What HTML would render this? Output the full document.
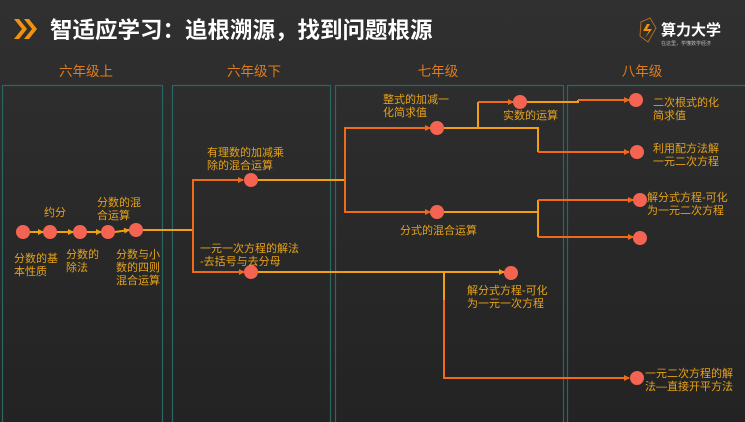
<!DOCTYPE html>
<html><head><meta charset="utf-8"><style>
html,body{margin:0;padding:0;width:745px;height:422px;overflow:hidden;background:#2d2d2d;}
svg{display:block}
text{font-family:"Liberation Sans","Noto Sans CJK SC",sans-serif;}
</style></head><body>
<svg width="745" height="422" viewBox="0 0 745 422" xmlns="http://www.w3.org/2000/svg">
<defs>
<linearGradient id="bg" x1="0" y1="0" x2="0" y2="1"><stop offset="0" stop-color="#303030"/><stop offset="1" stop-color="#232323"/></linearGradient>
<marker id="a" markerWidth="6" markerHeight="6" refX="5" refY="3" orient="auto" markerUnits="userSpaceOnUse"><path d="M0,0 L6,3 L0,6z" fill="#f06a1a"/></marker>
<marker id="ay" markerWidth="6" markerHeight="6" refX="5" refY="3" orient="auto" markerUnits="userSpaceOnUse"><path d="M0,0 L6,3 L0,6z" fill="#f0a010"/></marker>
</defs>
<rect width="745" height="422" fill="url(#bg)"/>
<!-- header -->
<path d="M14,19 L22,29 L14,39 L19,39 L27,29 L19,19z" fill="#f0920e"/>
<path d="M24,19 L32,29 L24,39 L29,39 L37,29 L29,19z" fill="#f0920e"/>
<text x="50" y="38" font-size="22.5" font-weight="bold" fill="#ffffff">智适应学习：追根溯源，找到问题根源</text>
<path d="M641,22 L650,18 L656,28 L648,42 L640,36z" fill="none" stroke="#b06a20" stroke-width="1"/>
<path d="M647,24 L643,31 L649,31 L645,38 L652,29 L647,29 L650,24z" fill="#f0920e"/>
<text x="661" y="35" font-size="15" font-weight="bold" fill="#fff">算力大学</text>
<text x="661" y="45" font-size="5" fill="#bbb">在这里，学懂数学经济</text>
<!-- headers -->
<g font-size="13.5" fill="#e07c1c" text-anchor="middle">
<text x="86" y="76">六年级上</text><text x="254" y="76">六年级下</text><text x="438" y="76">七年级</text><text x="642" y="76">八年级</text>
</g>
<!-- panels -->
<g fill="none" stroke="#2a6663" stroke-width="1.2">
<path d="M2.5,430 V85.5 H162.5 V430"/>
<path d="M172.5,430 V85.5 H330.5 V430"/>
<path d="M335.5,430 V85.5 H563.5 V430"/>
<path d="M567.5,430 V85.5 H760"/>
</g>
<!-- connectors -->
<g fill="none" stroke-width="2">
<g stroke="#f0a010">
<path d="M30,232 H43" marker-end="url(#ay)"/>
<path d="M57,232 H73" marker-end="url(#ay)"/>
<path d="M87,232 H101" marker-end="url(#ay)"/>
<path d="M115,232 L129,230" marker-end="url(#ay)"/>
<path d="M143,230 H193"/>
<path d="M258,180 H345"/>
<path d="M444,128 H538 V152"/>
<path d="M478,128 V102"/>
<path d="M527,102 H578 V100"/>
<path d="M444,212 H538"/>
<path d="M538,200 V237"/>
<path d="M258,272 H444"/>
<path d="M444,272 V300"/>
</g>
<path d="M444,272 H504" stroke="#f0a010" marker-end="url(#ay)"/>
<g stroke="#f06a1a">
<path d="M193,272 V180 H243" marker-end="url(#a)"/>
<path d="M193,230 V272 H244" marker-end="url(#a)"/>
<path d="M345,180 V128 H430" marker-end="url(#a)"/>
<path d="M345,180 V212 H430" marker-end="url(#a)"/>
<path d="M478,102 H513" marker-end="url(#a)"/>
<path d="M578,100 H629" marker-end="url(#a)"/>
<path d="M538,152 H629" marker-end="url(#a)"/>
<path d="M538,200 H633" marker-end="url(#a)"/>
<path d="M538,237 H633" marker-end="url(#a)"/>
<path d="M444,300 V378 H629" marker-end="url(#a)"/>
</g>
</g>
<!-- nodes -->
<g fill="#f56452">
<circle cx="23" cy="232" r="7"/><circle cx="50" cy="232" r="7"/><circle cx="80" cy="232" r="7"/><circle cx="108" cy="232" r="7"/><circle cx="136" cy="230" r="7"/>
<circle cx="251" cy="180" r="7"/><circle cx="251" cy="272" r="7"/>
<circle cx="437" cy="128" r="7"/><circle cx="437" cy="212" r="7"/>
<circle cx="520" cy="102" r="7"/><circle cx="511" cy="273" r="7"/>
<circle cx="636" cy="100" r="7"/><circle cx="637" cy="152" r="7"/><circle cx="640" cy="200" r="7"/><circle cx="640" cy="238" r="7"/><circle cx="637" cy="378" r="7"/>
</g>
<!-- labels -->
<g font-size="11" fill="#e6a21a">
<text x="44" y="216">约分</text>
<text x="97" y="206">分数的混</text><text x="97" y="219">合运算</text>
<text x="14" y="262">分数的基</text><text x="14" y="275">本性质</text>
<text x="66" y="258">分数的</text><text x="66" y="271">除法</text>
<text x="116" y="258">分数与小</text><text x="116" y="271">数的四则</text><text x="116" y="284">混合运算</text>
<text x="207" y="156">有理数的加减乘</text><text x="207" y="169">除的混合运算</text>
<text x="200" y="252">一元一次方程的解法</text><text x="200" y="265">-去括号与去分母</text>
<text x="383" y="103">整式的加减一</text><text x="383" y="116">化简求值</text>
<text x="503" y="119">实数的运算</text>
<text x="400" y="234">分式的混合运算</text>
<text x="467" y="294">解分式方程-可化</text><text x="467" y="307">为一元一次方程</text>
<text x="653" y="106">二次根式的化</text><text x="653" y="119">简求值</text>
<text x="653" y="152">利用配方法解</text><text x="653" y="165">一元二次方程</text>
<text x="647" y="201">解分式方程-可化</text><text x="647" y="214">为一元二次方程</text>
<text x="645" y="377">一元二次方程的解</text><text x="645" y="390">法—直接开平方法</text>
</g>
</svg>
</body></html>
